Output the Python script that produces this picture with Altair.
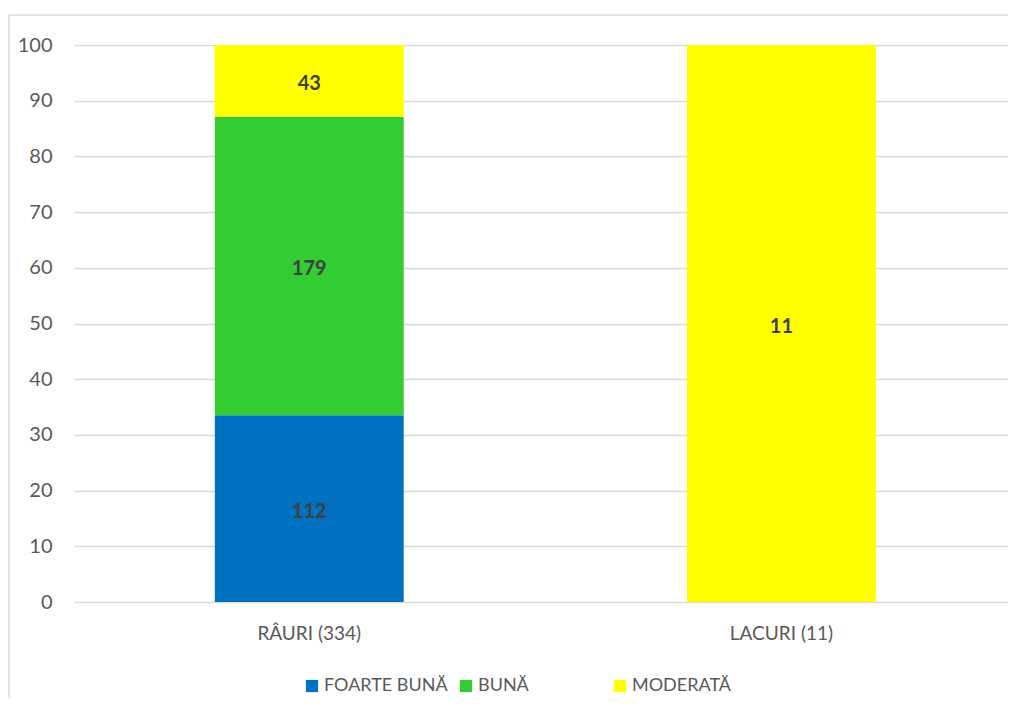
import altair as alt
import pandas as pd

categories = ["RÂURI (334)", "RÂURI (334)", "RÂURI (334)", "LACURI (11)"]
classes = ["FOARTE BUNĂ", "BUNĂ", "MODERATĂ", "MODERATĂ"]
counts = [112, 179, 43, 11]
class_order = ["FOARTE BUNĂ", "BUNĂ", "MODERATĂ"]
cat_order = ["RÂURI (334)", "LACURI (11)"]
colors = ["#0070C0", "#33CC33", "#FFFF00"]
y_ticks = [0, 10, 20, 30, 40, 50, 60, 70, 80, 90, 100]

df = pd.DataFrame({"cat": categories, "cls": classes, "n": counts})
df["ord"] = df["cls"].map({c: i for i, c in enumerate(class_order)})

FONT = "Lato"
GRAY = "#595959"

base = alt.Chart(df).transform_joinaggregate(
    total="sum(n)", groupby=["cat"]
).transform_calculate(
    pct="100 * datum.n / datum.total"
).transform_window(
    cum="sum(pct)", sort=[alt.SortField("ord")], groupby=["cat"], frame=[None, 0]
).transform_calculate(
    lo="datum.cum - datum.pct", mid="datum.cum - datum.pct / 2"
)

x = alt.X("cat:N", sort=cat_order, title=None,
          scale=alt.Scale(paddingInner=0.6, paddingOuter=0.289, align=0.516),
          axis=alt.Axis(labelAngle=0, labelFont=FONT, labelFontSize=19, labelColor=GRAY,
                        labelPadding=22, ticks=False, domain=False, grid=False))

bars = base.mark_bar().encode(
    x=x,
    y=alt.Y("lo:Q", title=None, scale=alt.Scale(domain=[0, 100], nice=False),
            axis=alt.Axis(values=y_ticks, labelFont=FONT, labelFontSize=20, labelColor=GRAY,
                          labelPadding=22, ticks=False, domain=False, grid=True,
                          gridColor="#D9D9D9", gridWidth=1.3)),
    y2="cum:Q",
    color=alt.Color("cls:N", sort=class_order,
                    scale=alt.Scale(domain=class_order, range=colors),
                    legend=alt.Legend(title=None, orient="none", direction="horizontal",
                                      legendX=229, legendY=632, gridAlign="all",
                                      symbolType="square", symbolSize=150, symbolStrokeWidth=0,
                                      labelFont=FONT, labelFontSize=18, labelColor=GRAY,
                                      columnPadding=9, symbolOffset=0, labelOffset=3)),
)

labels = base.mark_text(font=FONT, fontSize=20, fontWeight="bold", color="#404040", dy=3).encode(
    x=alt.X("cat:N", sort=cat_order),
    y=alt.Y("mid:Q"),
    text=alt.Text("n:Q"),
)

edge = pd.DataFrame({"a": [0]})
border_left = alt.Chart(edge).mark_rule(stroke="#D9D9D9", strokeWidth=1.5).encode(
    x=alt.value(-65), y=alt.value(-30), y2=alt.value(800))
border_top = alt.Chart(edge).mark_rule(stroke="#D9D9D9", strokeWidth=1.5).encode(
    x=alt.value(-65), x2=alt.value(1100), y=alt.value(-30))

chart = alt.layer(border_left, border_top, bars, labels).properties(
    width=934, height=557,
    autosize=alt.AutoSizeParams(type="none"),
    padding={"left": 66, "top": 37, "right": 0, "bottom": 96},
).configure_view(stroke=None)

chart.save("out.html", embed_options={"renderer": "svg", "actions": False})
